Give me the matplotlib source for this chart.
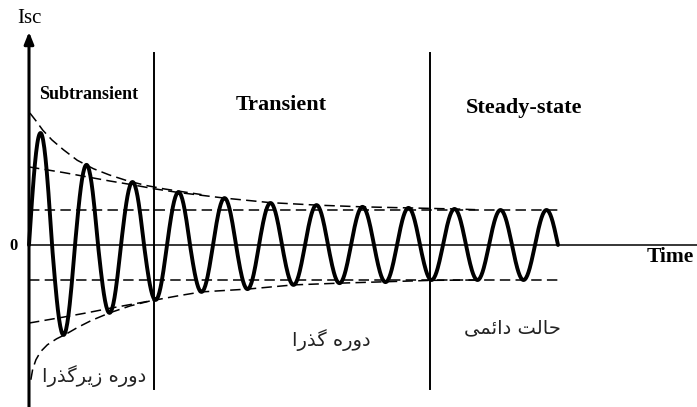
"""Short-circuit current of a synchronous machine: subtransient, transient and steady-state periods."""

import matplotlib

matplotlib.use("Agg")
import matplotlib.pyplot as plt
import numpy as np

# time in cycles of the fundamental, current in per-unit of the steady-state peak
HALF_CYCLE = 0.5
EXTREMA = [3.2, -2.57, 2.29, -1.94, 1.80, -1.57, 1.51, -1.34, 1.34, -1.26,
           1.20, -1.14, 1.14, -1.09, 1.09, -1.06, 1.06, -1.00, 1.03, -1.00,
           1.00, -1.00, 1.00]

# envelope curves (t, i)
SUB_UPPER_T = [0.02, 0.15, 0.30, 0.50, 0.75, 1.05, 1.40, 1.75, 2.15, 2.55, 2.95, 3.40, 3.75]
SUB_UPPER_I = [3.77, 3.55, 3.28, 3.00, 2.72, 2.42, 2.18, 2.00, 1.83, 1.70, 1.60, 1.51, 1.44]
SUB_LOWER_T = [0.04, 0.08, 0.15, 0.25, 0.40, 0.60, 0.80, 1.05, 1.35, 1.75, 2.20, 2.72]
SUB_LOWER_I = [-3.85, -3.55, -3.28, -3.05, -2.85, -2.68, -2.55, -2.36, -2.16, -1.94, -1.74, -1.57]
TR_UPPER_T = [0.0, 0.75, 1.25, 1.75, 2.25, 2.75, 3.25, 3.75, 4.25, 5.25, 6.25, 7.25, 8.25, 9.25, 9.70]
TR_UPPER_I = [2.23, 2.07, 1.95, 1.83, 1.72, 1.60, 1.50, 1.42, 1.34, 1.21, 1.14, 1.09, 1.06, 1.03, 1.01]
TR_LOWER_T = [0.0, 0.75, 1.25, 1.75, 2.25, 2.75, 3.25, 3.75, 4.75, 5.75, 6.75, 7.75, 8.75, 9.70]
TR_LOWER_I = [-2.23, -2.06, -1.94, -1.81, -1.69, -1.57, -1.45, -1.34, -1.26, -1.14, -1.09, -1.05, -1.01, -1.00]
STEADY_PEAK = 1.0
STEADY_END = 11.5

PERIOD_BOUNDS = [2.72, 8.72]
PERIOD_NAMES = ["Subtransient", "Transient", "Steady-state"]
PERIOD_NAMES_FA = ["دوره زیرگذرا", "دوره گذرا", "حالت دائمی"]

# Persian contextual forms: isolated, final, initial, medial
FA_FORMS = {
    "ا": ("\uFE8D", "\uFE8E", None, None),
    "د": ("\uFEA9", "\uFEAA", None, None),
    "ذ": ("\uFEAB", "\uFEAC", None, None),
    "ر": ("\uFEAD", "\uFEAE", None, None),
    "ز": ("\uFEAF", "\uFEB0", None, None),
    "و": ("\uFEED", "\uFEEE", None, None),
    "ه": ("\uFEE9", "\uFEEA", "\uFEEB", "\uFEEC"),
    "ی": ("\uFBFC", "\uFBFD", "\uFBFE", "\uFBFF"),
    "گ": ("\uFB92", "\uFB93", "\uFB94", "\uFB95"),
    "ح": ("\uFEA1", "\uFEA2", "\uFEA3", "\uFEA4"),
    "ل": ("\uFEDD", "\uFEDE", "\uFEDF", "\uFEE0"),
    "ت": ("\uFE95", "\uFE96", "\uFE97", "\uFE98"),
    "ئ": ("\uFE89", "\uFE8A", "\uFE8B", "\uFE8C"),
    "م": ("\uFEE1", "\uFEE2", "\uFEE3", "\uFEE4"),
}


def shape_fa(text):
    """Join letters and put them in visual (right-to-left) order; matplotlib does no shaping."""
    out = []
    for k, ch in enumerate(text):
        if ch not in FA_FORMS:
            out.append(ch)
            continue
        iso, fin, ini, med = FA_FORMS[ch]
        prev = text[k - 1] if k > 0 else ""
        nxt = text[k + 1] if k + 1 < len(text) else ""
        j_prev = prev in FA_FORMS and FA_FORMS[prev][2] is not None
        j_next = ini is not None and nxt in FA_FORMS
        if j_prev and j_next:
            out.append(med)
        elif j_prev:
            out.append(fin)
        elif j_next:
            out.append(ini)
        else:
            out.append(iso)
    return "".join(reversed(out))


def current_wave():
    ts, ys = [], []
    for k, peak in enumerate(EXTREMA):
        t = np.linspace(0, HALF_CYCLE, 40)
        ts.append(k * HALF_CYCLE + t)
        ys.append(peak * np.sin(np.pi * t / HALF_CYCLE))
    return np.concatenate(ts), np.concatenate(ys)


def main():
    plt.rcParams["lines.scale_dashes"] = False
    fig = plt.figure(figsize=(6.97, 4.07), dpi=100)
    ax = fig.add_axes([0, 0, 1, 1])
    ax.set_xlim(-29 / 46, 668 / 46)
    ax.set_ylim(-162 / 35, 245 / 35)
    ax.axis("off")

    dash = dict(color="black", lw=1.1, dashes=(7.5, 3.8))

    # axes
    ax.annotate("", xy=(0, 6.09), xytext=(0, -4.7),
                arrowprops=dict(arrowstyle="-|>,head_length=0.7,head_width=0.28",
                                lw=2.2, color="black", shrinkA=0, shrinkB=0))
    ax.plot([0, 14.6], [0, 0], color="black", lw=1.1)

    # period separators
    for xb in PERIOD_BOUNDS:
        ax.plot([xb, xb], [5.49, -4.11], color="black", lw=1.4)

    # envelopes
    ax.plot(SUB_UPPER_T, SUB_UPPER_I, **dash)
    ax.plot(SUB_LOWER_T, SUB_LOWER_I, **dash)
    ax.plot(TR_UPPER_T, TR_UPPER_I, **dash)
    ax.plot(TR_LOWER_T, TR_LOWER_I, **dash)
    ax.plot([0, STEADY_END], [STEADY_PEAK, STEADY_PEAK], **dash)
    ax.plot([0, STEADY_END], [-STEADY_PEAK, -STEADY_PEAK], **dash)

    # fault current
    t, i = current_wave()
    ax.plot(t, i, color="black", lw=2.8, solid_capstyle="round")

    serif = ["Liberation Serif", "DejaVu Serif"]
    ax.text(0, 6.46, "Isc", family=serif, fontsize=15, ha="center", va="center")
    ax.text(-0.33, -0.03, "0", family=serif, fontsize=12, weight="bold", ha="center", va="center")
    ax.text(13.43, -0.34, "Time", family=serif, fontsize=15.5, weight="bold", ha="left", va="center")

    ax.text(1.29, 4.31, PERIOD_NAMES[0], family=serif, fontsize=13, weight="bold", ha="center", va="center")
    ax.text(5.48, 4.0, PERIOD_NAMES[1], family=serif, fontsize=16, weight="bold", ha="center", va="center")
    ax.text(10.76, 3.91, PERIOD_NAMES[2], family=serif, fontsize=16, weight="bold", ha="center", va="center")

    fa_pos = [(1.41, -3.75, 14), (6.57, -2.71, 14), (10.5, -2.37, 14)]
    for name, (x, y, size) in zip(PERIOD_NAMES_FA, fa_pos):
        ax.text(x, y, shape_fa(name), family=["DejaVu Sans"], fontsize=size,
                color="#222222", ha="center", va="center")

    fig.savefig("out.png", dpi=100, facecolor="white")
    plt.close(fig)


if __name__ == "__main__":
    main()
